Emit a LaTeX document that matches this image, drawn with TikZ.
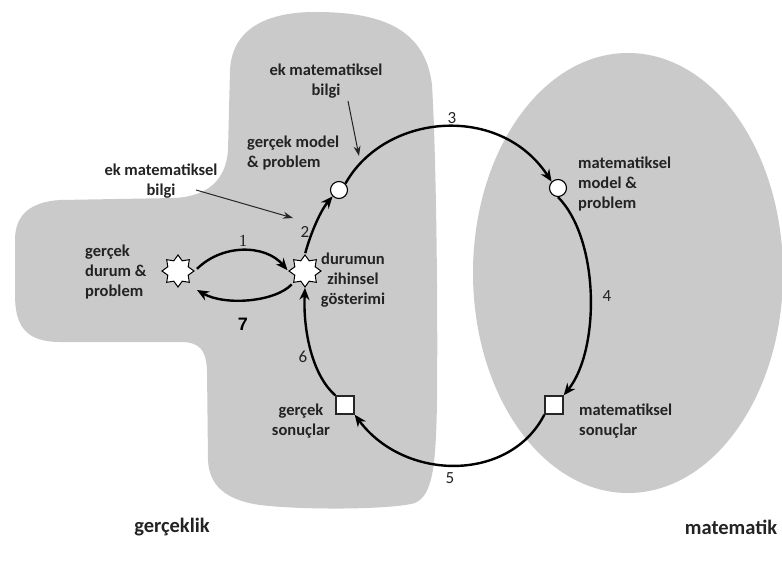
\documentclass[tikz,border=0pt]{standalone}
\usepackage{fontspec}
\setmainfont{Carlito}
\newfontfamily\numserif{Liberation Serif}
\newfontfamily\numsans{Liberation Sans}
\usetikzlibrary{shapes.geometric,arrows.meta}
\definecolor{blobgray}{RGB}{202,202,202}
\definecolor{txt}{RGB}{35,35,35}
\tikzset{
  lbl/.style={inner sep=0pt, text=txt, font=\fontsize{16.5}{20}\selectfont\bfseries},
  biglbl/.style={inner sep=0pt, text=txt, font=\fontsize{20.5}{23}\selectfont\bfseries},
  num/.style={inner sep=0pt, text=txt, font=\fontsize{17}{20}\selectfont},
  starnode/.style={star, star points=8, star point ratio=1.45, minimum size=32pt, inner sep=0pt, draw=black, fill=white, line width=1pt},
  circnode/.style={circle, minimum size=17pt, inner sep=0pt, draw=black, fill=white, line width=1.1pt},
  sqnode/.style={rectangle, minimum size=18pt, inner sep=0pt, draw=black!85, fill=white, line width=1.4pt},
  thick arrow/.style={line width=2.4pt, -{Stealth[length=12pt,width=10pt]}},
  thin arrow/.style={line width=1pt, black!85, -{Stealth[length=10pt,width=7pt]}}
}
\begin{document}
\begin{tikzpicture}[x=1pt,y=-1pt]
\useasboundingbox (0,0) rectangle (782,572);
% regions
\fill[blobgray] (230,70) .. controls (232,30) and (265,12) .. (315,12)
  .. controls (375,12) and (425,25) .. (432,85)
  .. controls (436,150) and (438,300) .. (437,400)
  .. controls (436,470) and (432,495) .. (415,503)
  .. controls (390,510) and (300,510) .. (260,505)
  .. controls (225,500) and (209,485) .. (208,460)
  -- (207,370) .. controls (206,350) and (200,342) .. (180,342)
  -- (60,342) .. controls (25,342) and (15,325) .. (15,295)
  -- (15,240) .. controls (15,215) and (30,202) .. (60,200)
  -- (175,198) .. controls (208,196) and (226,180) .. (228,150) -- cycle;
\fill[blobgray] (628,273) ellipse [x radius=155, y radius=220];

% nodes
\node[starnode] (s1) at (178,271) {};
\node[starnode] (s2) at (305,271) {};
\node[circnode] (c1) at (339,190) {};
\node[circnode] (c2) at (558,188) {};
\node[sqnode] (q1) at (345,405) {};
\node[sqnode] (q2) at (554,405) {};

% labels
\node[lbl, align=center] (ektop) at (326,81) {ek matematiksel\\bilgi};
\node[lbl, align=left, anchor=west] (gmodel) at (247,153) {gerçek model\\\& problem};
\node[lbl, align=center] (ekleft) at (161,181) {ek matematiksel\\bilgi};
\node[lbl, align=left, anchor=west] (gdurum) at (85,272) {gerçek\\durum \&\\problem};
\node[lbl, align=center] (zihin) at (353,280) {durumun\\zihinsel\\gösterimi};
\node[lbl, align=center] (gson) at (301,421) {gerçek\\sonuçlar};
\node[lbl, align=left, anchor=west] (mmodel) at (578,184) {matematiksel\\model \&\\problem};
\node[lbl, align=left, anchor=west] (mson) at (579,421) {matematiksel\\sonuçlar};
\node[biglbl] (real) at (172,527) {gerçeklik};
\node[biglbl] (math) at (731,527) {matematik};

% step numbers
\node[num, font=\fontsize{17}{20}\selectfont\numserif] (n1) at (243,241) {1};
\node[num] (n2) at (305,232) {2};
\node[num] (n3) at (452,118) {3};
\node[num] (n4) at (607,296) {4};
\node[num] (n5) at (450,478) {5};
\node[num] (n6) at (303,357) {6};
\node[num, text=black, font=\fontsize{18}{20}\selectfont\numsans\bfseries] (n7) at (243,324) {7};

% helper coordinates
\coordinate (a7e) at (197,290);
\coordinate (t1s) at (348,101);
\coordinate (t1e) at (359,156);
\coordinate (t2s) at (196,190);
\coordinate (t2e) at (293,218);

% connectors
\draw[thick arrow, shorten <=3pt, shorten >=1pt] (s1.east) .. controls (222,244) and (265,244) .. (s2.west);
\draw[thick arrow, shorten <=2pt] (s2.south west) .. controls (275,302) and (225,306) .. (a7e);
\draw[thick arrow, shorten <=1pt] (s2.north) .. controls (311,232) and (321,210) .. (c1.south west);
\draw[thick arrow] (c1.north east) .. controls (385,113) and (500,103) .. (c2.north west);
\draw[thick arrow] (c2.south) .. controls (600,240) and (600,350) .. (q2.north east);
\draw[thick arrow] (q2.south west) .. controls (510,482) and (405,482) .. (q1.south east);
\draw[thick arrow] (q1.north west) .. controls (312,375) and (303,330) .. (s2.south);
\draw[thin arrow] (t1s) -- (t1e);
\draw[thin arrow] (t2s) -- (t2e);
\end{tikzpicture}
\end{document}
